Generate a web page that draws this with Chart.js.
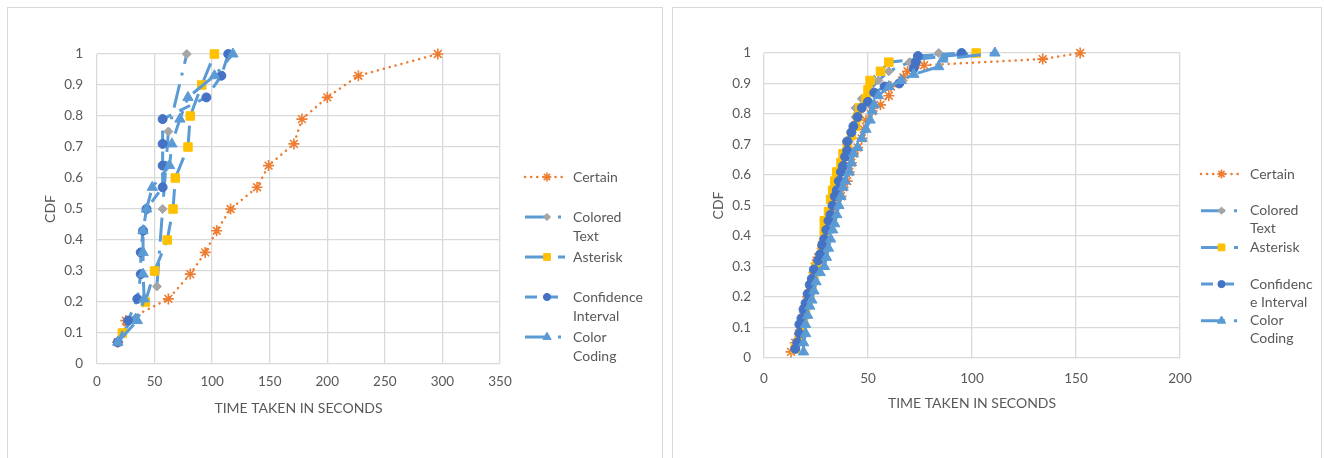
<!DOCTYPE html>
<html>
<head>
<meta charset="utf-8">
<script src="https://cdn.jsdelivr.net/npm/chart.js@4.4.1/dist/chart.umd.min.js"></script>
<style>
  html, body { margin: 0; padding: 0; background: #fff; }
  body { width: 1324px; height: 458px; position: relative; overflow: hidden; }
  .box { position: absolute; top: 7px; border: 1px solid #d9d9d9; height: 470px; }
  #boxL { left: 7px; width: 654px; }
  #boxR { left: 672px; width: 648px; }
  canvas { position: absolute; left: 0; top: 0; }
</style>
</head>
<body>
<div class="box" id="boxL"><canvas id="chartL" width="654" height="450"></canvas></div>
<div class="box" id="boxR"><canvas id="chartR" width="648" height="450"></canvas></div>
<script>
// ---- data: [seconds, cdf] ----
const leftCertain = [[18,0.07],[25,0.14],[62,0.21],[81,0.29],[94,0.36],[104,0.43],[116,0.5],[139,0.57],[149,0.64],[171,0.71],[178,0.79],[200,0.86],[227,0.93],[296,1]];
const leftColoredText = [[52,0.25],[57,0.5],[62,0.75],[78,1]];
const leftAsterisk = [[22,0.1],[42,0.2],[50,0.3],[61,0.4],[66,0.5],[68,0.6],[79,0.7],[81,0.8],[91,0.9],[102,1]];
const leftConfidence = [[18,0.07],[27,0.14],[35,0.21],[38,0.29],[38,0.36],[40,0.43],[43,0.5],[57,0.57],[57,0.64],[57,0.71],[57,0.79],[95,0.86],[108,0.93],[114,1]];
const leftColorCoding = [[18,0.07],[35,0.14],[41,0.21],[40,0.29],[40,0.36],[40,0.43],[43,0.5],[48,0.57],[63,0.64],[65,0.71],[72,0.79],[79,0.86],[102,0.93],[118,1]];

const rightCertain = [[13,0.02],[15,0.05],[17,0.08],[18,0.11],[19,0.14],[20,0.17],[21,0.2],[22,0.22],[23,0.25],[24,0.28],[25,0.31],[26,0.33],[28,0.36],[29,0.39],[30,0.42],[32,0.45],[33,0.47],[34,0.5],[37,0.53],[38,0.56],[40,0.58],[41,0.61],[42,0.64],[43,0.67],[45,0.69],[47,0.72],[48,0.75],[49,0.78],[52,0.81],[56,0.83],[60,0.86],[61,0.89],[67,0.92],[69,0.94],[77,0.96],[134,0.98],[152,1]];
const rightColoredText = [[15,0.03],[16,0.06],[17,0.09],[18,0.12],[19,0.15],[20,0.18],[21,0.21],[23,0.24],[24,0.26],[25,0.29],[27,0.32],[28,0.35],[28,0.38],[29,0.41],[31,0.44],[32,0.47],[33,0.5],[34,0.53],[35,0.56],[36,0.59],[37,0.62],[38,0.65],[39,0.68],[41,0.71],[42,0.74],[43,0.76],[44,0.79],[44,0.82],[47,0.85],[51,0.88],[55,0.91],[60,0.94],[70,0.97],[84,1]];
const rightAsterisk = [[15,0.03],[17,0.06],[18,0.09],[19,0.12],[20,0.15],[21,0.18],[22,0.21],[23,0.24],[24,0.27],[25,0.3],[27,0.33],[28,0.36],[29,0.39],[29,0.42],[29,0.45],[31,0.48],[32,0.52],[33,0.55],[34,0.58],[35,0.61],[37,0.64],[38,0.67],[40,0.7],[42,0.73],[44,0.76],[45,0.79],[46,0.82],[49,0.85],[50,0.88],[51,0.91],[56,0.94],[60,0.97],[102,1]];
const rightConfidence = [[15,0.03],[16,0.05],[17,0.08],[17,0.11],[18,0.13],[19,0.16],[20,0.18],[21,0.21],[22,0.24],[23,0.26],[24,0.29],[26,0.32],[27,0.34],[28,0.37],[29,0.39],[30,0.42],[31,0.45],[32,0.47],[33,0.5],[34,0.53],[35,0.55],[36,0.58],[37,0.61],[38,0.63],[39,0.66],[40,0.68],[40,0.71],[42,0.74],[43,0.76],[45,0.79],[47,0.82],[50,0.84],[53,0.87],[58,0.89],[65,0.9],[72,0.95],[73,0.97],[74,0.99],[95,1]];
const rightColorCoding = [[19,0.02],[19,0.05],[20,0.08],[20,0.11],[21,0.14],[22,0.17],[23,0.19],[24,0.22],[25,0.25],[27,0.28],[29,0.3],[30,0.33],[31,0.36],[32,0.39],[33,0.42],[34,0.44],[35,0.47],[36,0.5],[37,0.53],[38,0.56],[39,0.58],[41,0.61],[42,0.64],[43,0.67],[45,0.69],[47,0.72],[49,0.75],[51,0.78],[52,0.81],[53,0.83],[55,0.86],[60,0.89],[66,0.91],[72,0.93],[84,0.955],[86,0.98],[111,1]];

const xTicksLeft = [0, 50, 100, 150, 200, 250, 300, 350];
const xTicksRight = [0, 50, 100, 150, 200];
const yTicks = [0, 0.1, 0.2, 0.3, 0.4, 0.5, 0.6, 0.7, 0.8, 0.9, 1];
const yTickLabels = ['0', '0.1', '0.2', '0.3', '0.4', '0.5', '0.6', '0.7', '0.8', '0.9', '1'];

const legendLeft = [['Certain'], ['Colored', 'Text'], ['Asterisk'], ['Confidence', 'Interval'], ['Color', 'Coding']];
const legendRight = [['Certain'], ['Colored', 'Text'], ['Asterisk'], ['Confidenc', 'e Interval'], ['Color', 'Coding']];

const xTitle = 'TIME TAKEN IN SECONDS';
const yTitle = 'CDF';

// ---- styles ----
const FONT = 'Lato';
const FS = 14;
const TEXT = '#595959';
const GRID = '#d9d9d9';
const styles = [
  { line: '#ED7D31', width: 2.5, dash: [0.1, 6], cap: 'round', point: 'star', r: 5.5, fill: '#ED7D31', pb: 1.6 },
  { line: '#5B9BD5', width: 3, dash: [24, 9, 3, 9], cap: 'butt', point: 'rectRot', r: 4.5, fill: '#A5A5A5', pb: 1 },
  { line: '#5B9BD5', width: 3, dash: [24, 9], cap: 'butt', point: 'rect', r: 6, fill: '#FFC000', pb: 1 },
  { line: '#5B9BD5', width: 3, dash: [12, 9], cap: 'butt', point: 'circle', r: 4.5, fill: '#4472C4', pb: 1 },
  { line: '#5B9BD5', width: 3, dash: [24, 9, 3, 9], cap: 'butt', point: 'triangle', r: 6, fill: '#5B9BD5', pb: 1 }
];

function makeDatasets(series) {
  return series.map((pts, i) => {
    const s = styles[i];
    return {
      data: pts.map(p => ({ x: p[0], y: p[1] })),
      showLine: true,
      tension: 0,
      clip: false,
      order: series.length - i,
      borderColor: s.line,
      borderWidth: s.width,
      borderDash: s.dash,
      borderCapStyle: s.cap,
      pointStyle: s.point,
      pointRadius: s.r,
      pointBackgroundColor: s.fill,
      pointBorderColor: s.fill,
      pointBorderWidth: s.pb
    };
  });
}

/* =========================
   LEGEND AT THE SIDE
========================= */
const sideLegend = {
  id: 'sideLegend',
  afterDraw(chart, args, o) {
    const ctx = chart.ctx;
    ctx.save();
    chart.data.datasets.forEach((ds, i) => {
      const y = o.y + i * o.step;
      ctx.save();
      ctx.strokeStyle = ds.borderColor;
      ctx.lineWidth = ds.borderWidth;
      ctx.setLineDash(ds.borderDash);
      ctx.lineCap = ds.borderCapStyle;
      ctx.beginPath();
      ctx.moveTo(o.x, y);
      ctx.lineTo(o.x + o.len, y);
      ctx.stroke();
      ctx.restore();

      ctx.save();
      ctx.setLineDash([]);
      ctx.fillStyle = ds.pointBackgroundColor;
      ctx.strokeStyle = ds.pointBorderColor;
      ctx.lineWidth = ds.pointBorderWidth;
      Chart.helpers.drawPoint(ctx, { pointStyle: ds.pointStyle, radius: ds.pointRadius * 0.8, borderWidth: ds.pointBorderWidth, rotation: 0 }, o.x + o.len / 2 + 2, y);
      ctx.restore();

      ctx.font = FS + 'px ' + FONT;
      ctx.fillStyle = TEXT;
      ctx.textBaseline = 'middle';
      ctx.textAlign = 'left';
      o.labels[i].forEach((t, j) => ctx.fillText(t, o.x + o.textGap, y + j * o.lineHeight));
    });
    ctx.restore();
  }
};

function build(id, series, cfg) {
  new Chart(document.getElementById(id), {
    type: 'scatter',
    data: { datasets: makeDatasets(series) },
    plugins: [sideLegend],
    options: {
      responsive: false,
      animation: false,
      events: [],
      layout: { padding: cfg.pad },
      plugins: {
        legend: { display: false },
        tooltip: { enabled: false },
        sideLegend: cfg.legend
      },
      scales: {
        x: {
          type: 'linear',
          min: 0,
          max: cfg.xTicks[cfg.xTicks.length - 1],
          afterBuildTicks: s => { s.ticks = cfg.xTicks.map(v => ({ value: v })); },
          afterFit: s => { s.height = cfg.xH; },
          ticks: { color: TEXT, font: { family: FONT, size: 13.5 }, padding: cfg.xPad, maxRotation: 0, autoSkip: false },
          grid: { color: GRID, lineWidth: 1.3, drawTicks: false },
          border: { display: false },
          title: { display: true, text: xTitle, color: TEXT, font: { family: FONT, size: FS }, padding: 4 }
        },
        y: {
          min: 0,
          max: 1,
          afterBuildTicks: s => { s.ticks = yTicks.map(v => ({ value: v })); },
          afterFit: s => { s.width = cfg.yW; },
          ticks: {
            color: TEXT, font: { family: FONT, size: 13.5 }, padding: cfg.yPad, autoSkip: false,
            callback: (v, i) => yTickLabels[i]
          },
          grid: { color: GRID, lineWidth: 1.3, drawTicks: false },
          border: { display: false },
          title: { display: true, text: yTitle, color: TEXT, font: { family: FONT, size: FS }, padding: 4 }
        }
      }
    }
  });
}

build('chartL', [leftCertain, leftColoredText, leftAsterisk, leftConfidence, leftColorCoding], {
  xTicks: xTicksLeft,
  pad: { left: 30, top: 46, right: 162, bottom: 37 },
  xH: 57, yW: 59, xPad: 10, yPad: 14,
  legend: { x: 517, y: 169, step: 40, len: 40, textGap: 48, lineHeight: 19, labels: legendLeft }
});

build('chartR', [rightCertain, rightColoredText, rightAsterisk, rightConfidence, rightColorCoding], {
  xTicks: xTicksRight,
  pad: { left: 33, top: 45, right: 141, bottom: 42 },
  xH: 58, yW: 58, xPad: 13, yPad: 13,
  legend: { x: 528, y: 166, step: 36.7, len: 37, textGap: 49, lineHeight: 18, labels: legendRight }
});
</script>
</body>
</html>
